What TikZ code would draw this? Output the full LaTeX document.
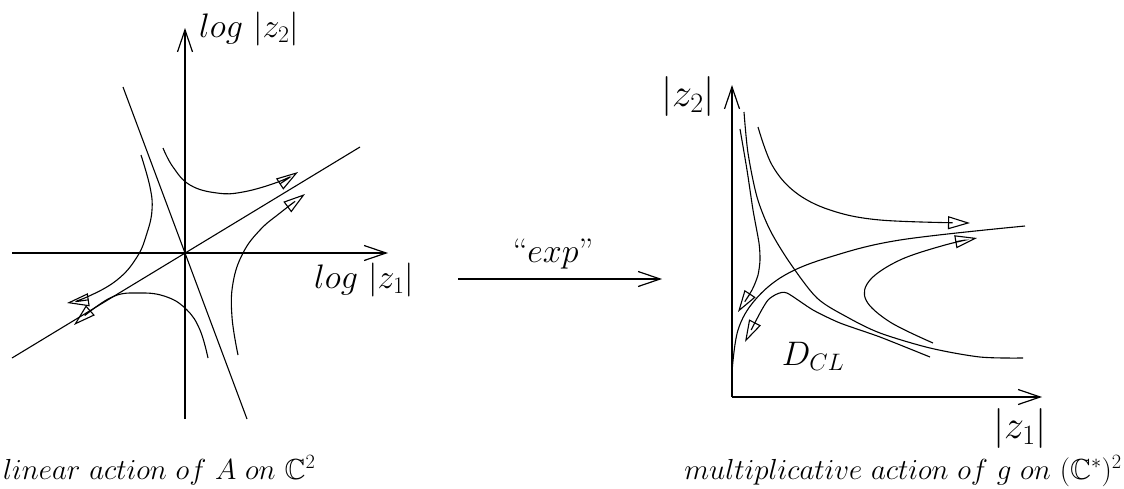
\RequirePackage{fix-cm}
\documentclass[tikz,border=0pt]{standalone}
\usepackage{amssymb}
\usetikzlibrary{arrows.meta}
\tikzset{
  axis/.style={line width=1.2pt, -{Straight Barb[length=22pt,width=15pt,line width=1.2pt]}},
  flow/.style={line width=1.1pt, -{Triangle[open,length=22pt,width=13pt,line width=1.1pt]}},
  sepline/.style={line width=1.1pt},
  lbl/.style={inner sep=0pt, font=\fontsize{34}{40}\selectfont},
  biglbl/.style={inner sep=0pt, font=\fontsize{40}{46}\selectfont},
  captext/.style={inner sep=0pt, font=\fontsize{29}{35}\selectfont},
}
\begin{document}
\begin{tikzpicture}[x=1pt,y=-1pt]
\useasboundingbox (0,0) rectangle (1124,488);
% ---------- left diagram ----------
\coordinate (O) at (185,253);
\coordinate (vb) at (185,419);
\coordinate (vt) at (185,28);
\coordinate (hl) at (12,253);
\coordinate (hr) at (388,253);
\draw[axis] (vb) -- (vt);
\draw[axis] (hl) -- (hr);
\coordinate (s1) at (123,87);
\coordinate (s2) at (247,419);
\coordinate (d1) at (12,358);
\coordinate (d2) at (360,147);
\draw[sepline] (s1) -- (s2);
\draw[sepline] (d1) -- (d2);
\draw[flow] plot[smooth,tension=0.7] coordinates {(163,148) (173,167) (190,185) (217,193) (243,192) (278,182) (298,172)};
\draw[flow] plot[smooth,tension=0.7] coordinates {(141,155) (150,187) (152,210) (147,233) (137,257) (117,280) (87,297) (67,303)};
\draw[flow] plot[smooth,tension=0.7] coordinates {(208,358) (200,330) (187,310) (167,297) (140,293) (110,298) (74,325)};
\draw[flow] plot[smooth,tension=0.7] coordinates {(238,355) (232,317) (233,283) (243,253) (260,230) (280,213) (305,194)};
\node[lbl, anchor=west] (lz2) at (199,29) {$log\ |z_2|$};
\node[lbl, anchor=west] (lz1) at (314,280) {$log\ |z_1|$};
% ---------- middle arrow ----------
\coordinate (ma) at (458,279);
\coordinate (mb) at (662,279);
\draw[axis] (ma) -- (mb);
\node[lbl, anchor=base] (exp) at (553,262) {``$exp$''};
% ---------- right diagram ----------
\coordinate (rb) at (732,397);
\coordinate (rt) at (732,85);
\coordinate (rr) at (1042,397);
\draw[axis] (rb) -- (rt);
\draw[axis] (rb) -- (rr);
\draw[flow] plot[smooth,tension=0.6] coordinates {(758,127) (772,165) (795,192) (830,210) (880,220) (970,223)};
\draw[sepline] plot[smooth,tension=0.6] coordinates {(732,372) (738,330) (755,300) (785,275) (830,257) (900,240) (1025,226)};
\draw[sepline] plot[smooth,tension=0.5] coordinates {(744,112) (748,153) (757,197) (770,230) (790,263) (817,298) (847,317) (880,333) (930,348) (980,357) (1023,358)};
\draw[flow] plot[smooth,tension=0.4] coordinates {(740,129) (747,170) (753,210) (759,243) (760,260) (758,275) (752,290) (738,312)};
\draw[flow] plot[smooth,tension=0.4] coordinates {(930,357) (880,337) (840,323) (813,310) (787,293) (777,294) (768,300) (760,313) (745,342)};
\draw[flow] plot[smooth,tension=0.6] coordinates {(933,343) (890,322) (866,300) (870,280) (900,260) (945,245) (977,238)};
\node[biglbl] (rz2) at (688,96) {$|z_2|$};
\node[biglbl] (rz1) at (1020,428) {$|z_1|$};
\node[lbl] (dcl) at (813,356) {$D_{CL}$};
% ---------- captions ----------
\node[captext, anchor=base west] (cl) at (3,479) {$linear\ action\ of\ A\ on\ \mathbb{C}^2$};
\node[captext, anchor=base east] (cr) at (1122,479) {$multiplicative\ action\ of\ g\ on\ (\mathbb{C}^*)^2$};
\end{tikzpicture}
\end{document}
